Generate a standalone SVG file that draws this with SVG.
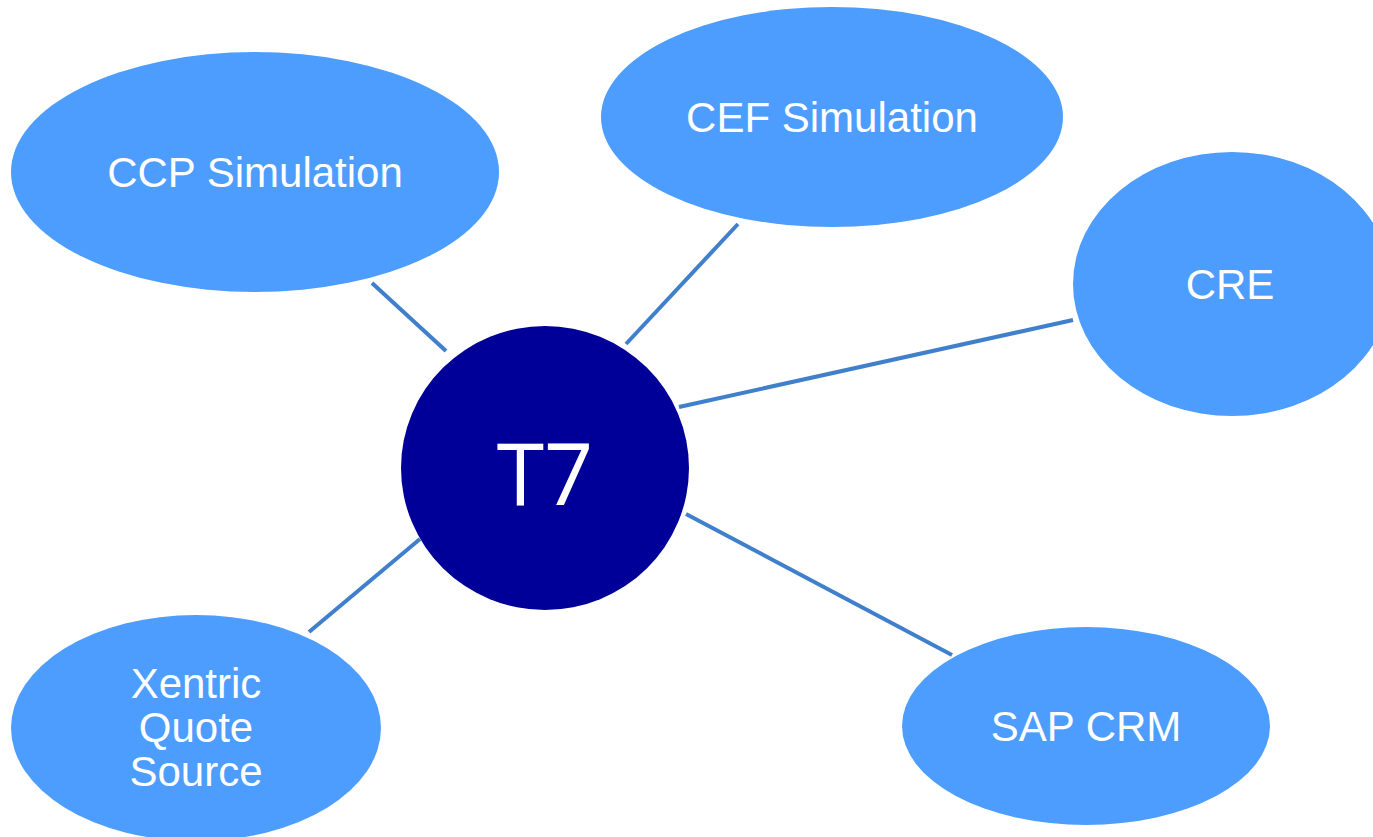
<svg xmlns="http://www.w3.org/2000/svg" width="1373" height="837" viewBox="0 0 1373 837">
<style>
.n{fill:#4D9DFF}
.t{fill:#fff;font-family:"Liberation Sans",Arial,sans-serif;font-size:42px;text-anchor:middle}
.c line{stroke:#3F7FCC;stroke-width:4}
</style>
<rect width="1373" height="837" fill="#fff"/>
<g class="c" id="connectors">
<line x1="372" y1="283" x2="446" y2="351"/>
<line x1="738" y1="224" x2="626" y2="344"/>
<line x1="1073" y1="320" x2="679" y2="407"/>
<line x1="420" y1="539" x2="309" y2="632"/>
<line x1="686" y1="514" x2="952" y2="655"/>
</g>
<g id="ccp"><ellipse class="n" cx="255" cy="172" rx="244" ry="120"/><text class="t" x="255" y="187">CCP Simulation</text></g>
<g id="cef"><ellipse class="n" cx="832" cy="117" rx="231" ry="110"/><text class="t" x="832" y="132">CEF Simulation</text></g>
<g id="cre"><ellipse class="n" cx="1232" cy="284" rx="159" ry="132"/><text class="t" x="1230" y="299">CRE</text></g>
<g id="xentric"><ellipse class="n" cx="196" cy="728" rx="185" ry="113"/><text class="t" x="196" y="698">Xentric</text><text class="t" x="196" y="742">Quote</text><text class="t" x="196" y="786">Source</text></g>
<g id="sap"><ellipse class="n" cx="1086" cy="726" rx="184" ry="99"/><text class="t" x="1086" y="741">SAP CRM</text></g>
<g id="t7"><ellipse cx="545" cy="468" rx="144" ry="142" fill="#000099"/><text x="545" y="505" fill="#fff" font-family="'Open Sans','DejaVu Sans',sans-serif" font-size="86" text-anchor="middle">T7</text></g>
</svg>
